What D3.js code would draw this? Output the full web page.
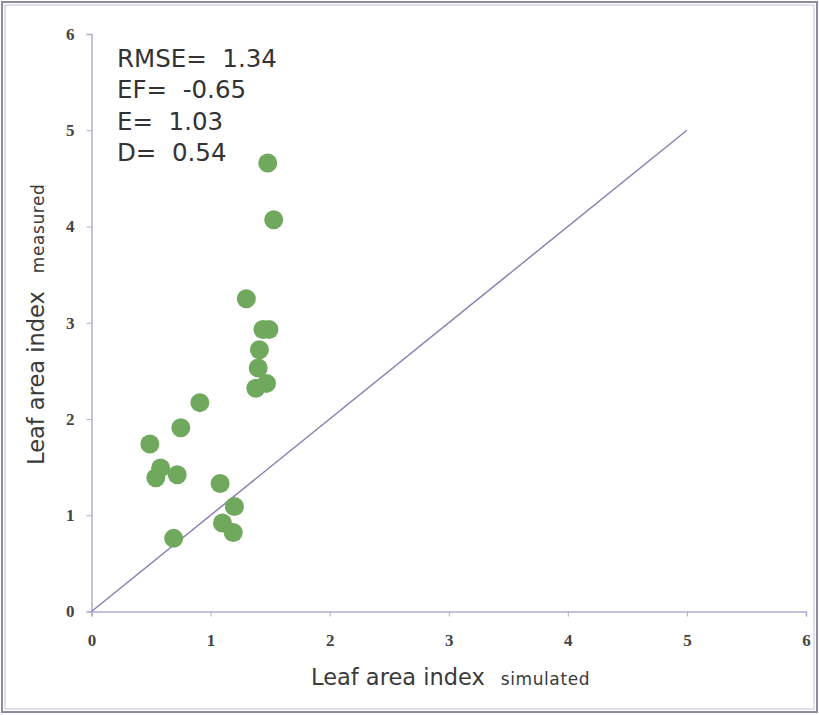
<!DOCTYPE html>
<html>
<head>
<meta charset="utf-8">
<script src="https://cdn.jsdelivr.net/npm/d3@7"></script>
<style>
  html, body { margin: 0; padding: 0; background: #fff; }
  svg { display: block; }
  text { white-space: pre; }
</style>
</head>
<body>
<svg id="chart" width="819" height="715"></svg>
<script>
// Simulated vs measured leaf area index
const simulated = [1.48, 1.53, 1.30, 1.44, 1.49, 1.41, 1.40, 1.38, 1.47, 0.91,
                   0.75, 0.49, 0.58, 0.54, 0.72, 1.08, 1.20, 1.10, 1.19, 0.69];
const measured  = [4.66, 4.07, 3.25, 2.93, 2.93, 2.72, 2.53, 2.32, 2.37, 2.17,
                   1.91, 1.74, 1.49, 1.39, 1.42, 1.33, 1.09, 0.92, 0.82, 0.76];
const tickValues = [0, 1, 2, 3, 4, 5, 6];
const oneToOne = [0, 5];
const statLabels = ["RMSE=  1.34", "EF=  -0.65", "E=  1.03", "D=  0.54"];

const svg = d3.select("#chart");
const x = d3.scaleLinear().domain([0, 6]).range([91.5, 806]);
const y = d3.scaleLinear().domain([0, 6]).range([611.5, 34]);

// outer frame
svg.append("rect").attr("x", 2).attr("y", 2).attr("width", 815).attr("height", 710)
  .attr("fill", "none").attr("stroke", "#8e8c9c").attr("stroke-width", 2);
svg.append("rect").attr("x", 5).attr("y", 5).attr("width", 809).attr("height", 704)
  .attr("fill", "none").attr("stroke", "#c4bedb").attr("stroke-width", 1);

const axisColor = "#b3acd0";

const xAxis = svg.append("g").attr("transform", `translate(0,${y(0)})`)
  .call(d3.axisBottom(x).tickValues(tickValues).tickSize(5).tickPadding(17).tickFormat(d3.format("d")));
const yAxis = svg.append("g").attr("transform", `translate(${x(0)},0)`)
  .call(d3.axisLeft(y).tickValues(tickValues).tickSize(5).tickPadding(12).tickFormat(d3.format("d")));

[xAxis, yAxis].forEach(g => {
  g.select(".domain").attr("stroke", axisColor).attr("stroke-width", 1.5);
  g.selectAll(".tick line").attr("stroke", axisColor).attr("stroke-width", 1);
  g.selectAll(".tick text")
    .attr("font-family", "'Liberation Serif', 'DejaVu Serif', serif")
    .attr("font-weight", "bold")
    .attr("font-size", 17)
    .attr("fill", "#444");
});

// 1:1 line
svg.append("line")
  .attr("x1", x(oneToOne[0])).attr("y1", y(oneToOne[0]))
  .attr("x2", x(oneToOne[1])).attr("y2", y(oneToOne[1]))
  .attr("stroke", "#8c80b4").attr("stroke-width", 1.5);

// points
svg.append("g").selectAll("circle")
  .data(simulated.map((s, i) => [s, measured[i]]))
  .join("circle")
  .attr("cx", d => x(d[0]))
  .attr("cy", d => y(d[1]))
  .attr("r", 9.5)
  .attr("fill", "#70a95e");

// statistics block
svg.append("g").selectAll("text")
  .data(statLabels)
  .join("text")
  .attr("x", 117)
  .attr("y", (d, i) => 66.5 + i * 31.5)
  .attr("font-family", "'DejaVu Sans', sans-serif")
  .attr("font-size", 24.5)
  .attr("fill", "#333")
  .text(d => d);

// axis titles
const xt = svg.append("text")
  .attr("x", 311).attr("y", 685)
  .attr("font-family", "'DejaVu Sans', sans-serif")
  .attr("fill", "#3a3a3a");
xt.append("tspan").attr("font-size", 22.5).text("Leaf area index");
xt.append("tspan").attr("font-size", 17).attr("letter-spacing", 0.6).attr("dx", 16).text("simulated");

const yt = svg.append("text")
  .attr("transform", "translate(44,465) rotate(-90)")
  .attr("font-family", "'DejaVu Sans', sans-serif")
  .attr("fill", "#3a3a3a");
yt.append("tspan").attr("font-size", 22.5).text("Leaf area index");
yt.append("tspan").attr("font-size", 17).attr("letter-spacing", 0.6).attr("dx", 18).text("measured");
</script>
</body>
</html>
